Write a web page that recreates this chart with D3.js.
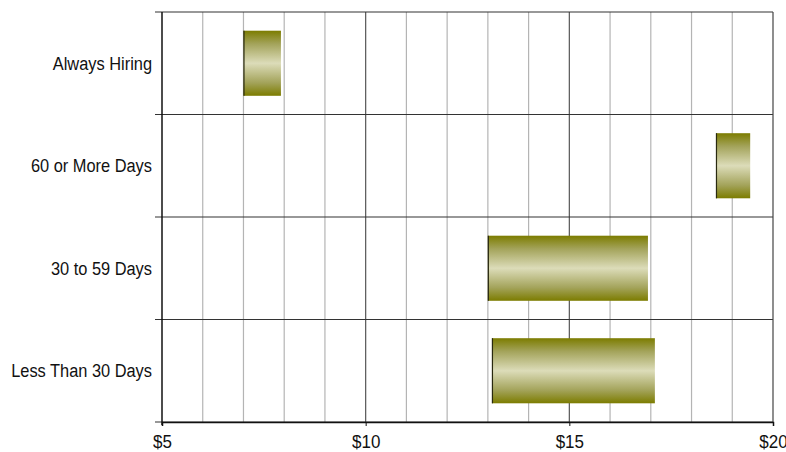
<!DOCTYPE html>
<html>
<head>
<meta charset="utf-8">
<script src="https://cdn.jsdelivr.net/npm/d3@7"></script>
<style>
  html, body { margin: 0; padding: 0; background: #fff; }
  svg { display: block; font-family: "Liberation Sans", Arial, sans-serif; }
</style>
</head>
<body>
<svg id="chart" width="786" height="452"></svg>
<script>
// Hourly wage ranges by time-to-fill
const categories = ["Always Hiring", "60 or More Days", "30 to 59 Days", "Less Than 30 Days"];
const lowValues  = [7.0, 18.6, 13.0, 13.1];
const highValues = [7.92, 19.44, 16.93, 17.1];
const majorTicks = [5, 10, 15, 20];
const minorTicks = [6, 7, 8, 9, 11, 12, 13, 14, 16, 17, 18, 19];

const svg = d3.select("#chart");
const margin = { top: 12, right: 13, bottom: 30, left: 162 };
const W = 786, H = 452;
const innerW = W - margin.left - margin.right;
const innerH = H - margin.top - margin.bottom;
const labelSize = 16.4, stretch = 1.1;

const x = d3.scaleLinear().domain([5, 20]).range([0, innerW]);
const y = d3.scaleBand().domain(categories).range([0, innerH]).paddingInner(0.365).paddingOuter(0.1825);
const band = d3.scaleBand().domain(categories).range([0, innerH]);

const defs = svg.append("defs");
const grad = defs.append("linearGradient")
  .attr("id", "barFill").attr("x1", 0).attr("y1", 0).attr("x2", 0).attr("y2", 1);
[[0, "#7c7c00"], [0.2, "#a3a35a"], [0.5, "#dcdcb9"], [0.8, "#a3a35a"], [1, "#7c7c00"]]
  .forEach(([o, c]) => grad.append("stop").attr("offset", o).attr("stop-color", c));

const g = svg.append("g").attr("transform", `translate(${margin.left},${margin.top})`);

// vertical grid
g.append("g").selectAll("line").data(minorTicks).join("line")
  .attr("x1", d => x(d)).attr("x2", d => x(d))
  .attr("y1", 0).attr("y2", innerH)
  .attr("stroke", "#b4b4b4").attr("stroke-width", 1.2);
g.append("g").selectAll("line").data(majorTicks.slice(1, -1)).join("line")
  .attr("x1", d => x(d)).attr("x2", d => x(d))
  .attr("y1", 0).attr("y2", innerH)
  .attr("stroke", "#555").attr("stroke-width", 1.2);

// horizontal category separators
const bounds = categories.map(c => band(c)).concat([innerH]);
g.append("g").selectAll("line").data(bounds).join("line")
  .attr("x1", -7).attr("x2", innerW)
  .attr("y1", d => d).attr("y2", d => d)
  .attr("stroke", "#333").attr("stroke-width", 1.2);

// right and left frame
g.append("line").attr("x1", innerW).attr("x2", innerW).attr("y1", 0).attr("y2", innerH)
  .attr("stroke", "#444").attr("stroke-width", 1.2);
g.append("line").attr("x1", 0).attr("x2", 0).attr("y1", 0).attr("y2", innerH + 3)
  .attr("stroke", "#111").attr("stroke-width", 1.5);

// bars
const bars = g.append("g").selectAll("g").data(categories).join("g");
bars.append("rect")
  .attr("x", (d, i) => x(lowValues[i]))
  .attr("width", (d, i) => x(highValues[i]) - x(lowValues[i]))
  .attr("y", d => y(d))
  .attr("height", y.bandwidth())
  .attr("fill", "url(#barFill)");
bars.append("line")
  .attr("x1", (d, i) => x(lowValues[i]) + 0.5).attr("x2", (d, i) => x(lowValues[i]) + 0.5)
  .attr("y1", d => y(d)).attr("y2", d => y(d) + y.bandwidth())
  .attr("stroke", "#2a2a10").attr("stroke-width", 1.2);

// bottom axis
const xAxis = d3.axisBottom(x)
  .tickValues(majorTicks)
  .tickFormat(d => "$" + d)
  .tickSize(4).tickPadding(6);
const ax = g.append("g").attr("transform", `translate(0,${innerH})`).call(xAxis);
ax.select(".domain").attr("stroke", "#111").attr("stroke-width", 1.5);
ax.selectAll(".tick line").attr("stroke", "#111");
ax.selectAll("text")
  .attr("y", null).attr("dy", null)
  .attr("transform", `scale(1,${stretch}) translate(0,23.3)`)
  .attr("font-size", labelSize + 0.6).attr("fill", "#111")
  .attr("font-family", "Liberation Sans, Arial, sans-serif");

// category labels
g.append("g").selectAll("text").data(categories).join("text")
  .attr("transform", d => `translate(-10,${band(d) + band.bandwidth() / 2}) scale(1,${stretch})`)
  .attr("dy", "0.35em")
  .attr("text-anchor", "end")
  .attr("font-size", labelSize)
  .attr("fill", "#111")
  .text(d => d);
</script>
</body>
</html>
